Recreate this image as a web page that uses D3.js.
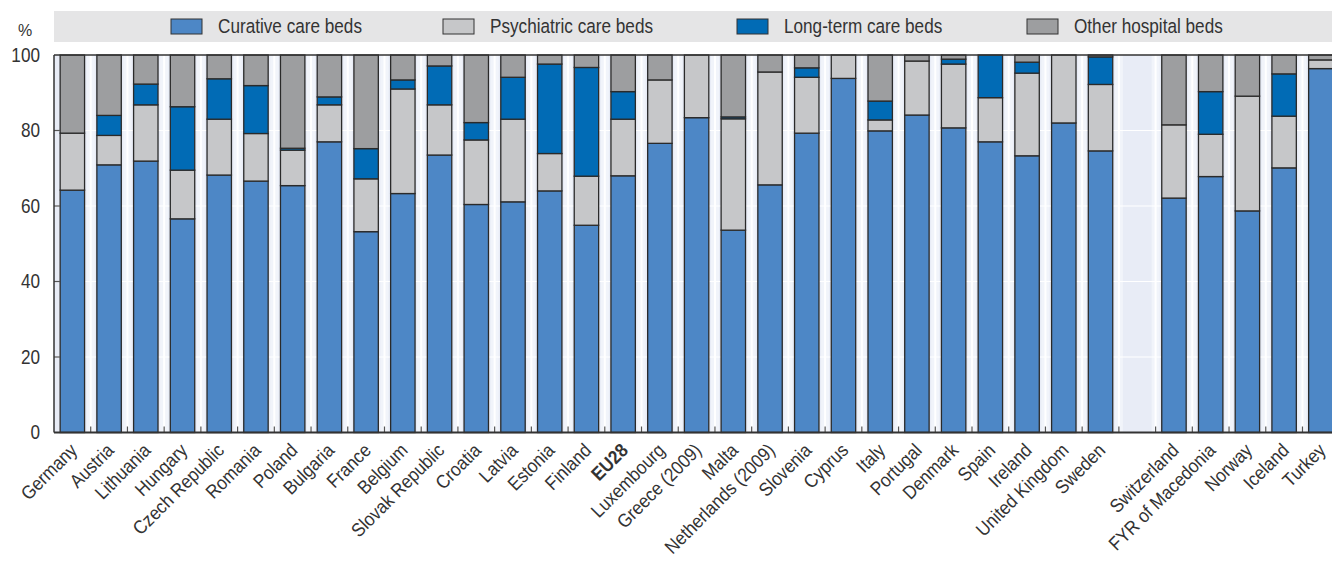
<!doctype html>
<html lang="en">
  <head>
    <meta charset="utf-8">
    <title>Hospital beds by function</title>
    <script src="https://d3js.org/d3.v7.min.js"></script>
    <style>
      body { margin: 0; background: #fff; }
      text { font-family: 'Liberation Sans', Arial, sans-serif; fill: #333; }
    </style>
  </head>

  <body>
    <div id="chart">
      <svg width="1332" height="562"></svg>
    </div>

    <script>
      var countries = ['Germany', 'Austria', 'Lithuania', 'Hungary', 'Czech Republic', 'Romania', 'Poland',
        'Bulgaria', 'France', 'Belgium', 'Slovak Republic', 'Croatia', 'Latvia', 'Estonia', 'Finland', 'EU28',
        'Luxembourg', 'Greece (2009)', 'Malta', 'Netherlands (2009)', 'Slovenia', 'Cyprus', 'Italy', 'Portugal',
        'Denmark', 'Spain', 'Ireland', 'United Kingdom', 'Sweden', '',
        'Switzerland', 'FYR of Macedonia', 'Norway', 'Iceland', 'Turkey'];

      var curative = [64.2, 70.9, 71.9, 56.6, 68.2, 66.6, 65.4, 77.0, 53.2, 63.3, 73.5, 60.4, 61.1, 64.0, 54.9, 68.0,
        76.6, 83.4, 53.6, 65.6, 79.3, 93.8, 79.9, 84.1, 80.7, 77.0, 73.3, 82.0, 74.6, 0,
        62.1, 67.8, 58.7, 70.1, 96.4];
      var psychiatric = [15.1, 7.8, 14.9, 12.9, 14.8, 12.6, 9.4, 9.8, 14.0, 27.7, 13.3, 17.1, 21.9, 9.9, 13.0, 15.0,
        16.8, 16.6, 29.5, 29.9, 14.8, 6.2, 2.9, 14.3, 16.9, 11.7, 21.9, 18.0, 17.6, 0,
        19.4, 11.2, 30.4, 13.7, 2.3];
      var longTerm = [0, 5.3, 5.5, 16.8, 10.7, 12.7, 0.5, 2.1, 8.0, 2.4, 10.3, 4.6, 11.1, 23.7, 28.8, 7.3,
        0, 0, 0.5, 0, 2.5, 0, 5.0, 0, 1.3, 11.3, 2.9, 0, 7.3, 0,
        0, 11.3, 0, 11.2, 0];
      var other = [20.7, 16.0, 7.7, 13.7, 6.3, 8.1, 24.7, 11.1, 24.8, 6.6, 2.9, 17.9, 5.9, 2.4, 3.3, 9.7,
        6.6, 0, 16.4, 4.5, 3.4, 0, 12.2, 1.6, 1.1, 0, 1.9, 0, 0.5, 0,
        18.5, 9.7, 10.9, 5.0, 1.3];

      var seriesNames = ['Curative care beds', 'Psychiatric care beds', 'Long-term care beds', 'Other hospital beds'];
      var colors = ['#4d87c6', '#c6c7c9', '#016bb5', '#9d9ea0'];
      var yTicks = [0, 20, 40, 60, 80, 100];

      var rows = countries.map(function(c, i) {
        return { country: c, s0: curative[i], s1: psychiatric[i], s2: longTerm[i], s3: other[i] };
      });

      var svg = d3.select('svg');
      var plotLeft = 54, plotTop = 55, plotBottom = 432.5;
      var step = 36.72;
      var plotRight = plotLeft + step * countries.length;
      var squeeze = 0.88;   // no condensed font installed, so narrow the regular one

      var x = d3.scaleBand()
        .domain(d3.range(countries.length))
        .range([plotLeft, plotRight])
        .paddingInner(0.335)
        .paddingOuter(0.1675);

      var y = d3.scaleLinear()
        .domain([0, 100])
        .range([plotBottom, plotTop]);

      // legend
      svg.append('rect')
        .attr('x', 54).attr('y', 11).attr('width', 1278).attr('height', 31)
        .attr('fill', '#e5e5e6');
      var legendX = [171, 443, 737, 1027];
      seriesNames.forEach(function(name, i) {
        svg.append('rect')
          .attr('x', legendX[i]).attr('y', 19).attr('width', 31).attr('height', 15)
          .attr('fill', colors[i]).attr('stroke', '#333').attr('stroke-width', 1);
        svg.append('text')
          .attr('transform', 'translate(' + (legendX[i] + 47) + ',26.5) scale(' + squeeze + ',1)')
          .attr('dy', '0.35em')
          .style('font-size', '19.5px')
          .text(name);
      });

      // plot background
      svg.append('rect')
        .attr('x', plotLeft).attr('y', plotTop)
        .attr('width', plotRight - plotLeft).attr('height', plotBottom - plotTop)
        .attr('fill', '#e8ecf6');

      var edges = d3.range(1, countries.length).map(function(i) { return plotLeft + i * step; });

      svg.append('g').selectAll('rect')
        .data(edges)
        .enter().append('rect')
          .attr('x', function(d) { return d - 4; })
          .attr('y', plotTop)
          .attr('width', 8)
          .attr('height', plotBottom - plotTop)
          .attr('fill', '#f1f4fa');

      svg.append('g').selectAll('line')
        .data(edges)
        .enter().append('line')
          .attr('x1', function(d) { return d; }).attr('x2', function(d) { return d; })
          .attr('y1', plotTop).attr('y2', plotBottom)
          .attr('stroke', '#fff').attr('stroke-width', 2);

      svg.append('g').selectAll('line')
        .data(yTicks.slice(1, 5))
        .enter().append('line')
          .attr('x1', plotLeft).attr('x2', plotRight)
          .attr('y1', y).attr('y2', y)
          .attr('stroke', '#fff').attr('stroke-width', 1.2);

      // bars
      var stack = d3.stack().keys(['s0', 's1', 's2', 's3']);
      var layers = stack(rows);

      svg.append('g').selectAll('g')
        .data(layers)
        .enter().append('g')
          .attr('fill', function(d, i) { return colors[i]; })
          .selectAll('rect')
          .data(function(d) { return d.filter(function(p) { return p[1] - p[0] > 0; }); })
          .enter().append('rect')
            .attr('x', function(d) { return x(rows.indexOf(d.data)); })
            .attr('y', function(d) { return y(d[1]); })
            .attr('width', x.bandwidth())
            .attr('height', function(d) { return y(d[0]) - y(d[1]); })
            .attr('stroke', '#2a2a2a')
            .attr('stroke-width', 1.3);

      // axes
      svg.append('g').selectAll('text')
        .data(yTicks)
        .enter().append('text')
          .attr('transform', function(d) { return 'translate(40,' + y(d) + ') scale(' + squeeze + ',1)'; })
          .attr('dy', '0.35em')
          .attr('text-anchor', 'end')
          .style('font-size', '19.5px')
          .text(function(d) { return d; });

      svg.append('g').selectAll('line')
        .data(yTicks.slice(1, 5))
        .enter().append('line')
          .attr('x1', plotLeft).attr('x2', plotLeft + 6)
          .attr('y1', y).attr('y2', y)
          .attr('stroke', '#555').attr('stroke-width', 1.2);

      svg.append('g').selectAll('line')
        .data(edges)
        .enter().append('line')
          .attr('x1', function(d) { return d; }).attr('x2', function(d) { return d; })
          .attr('y1', plotBottom).attr('y2', plotBottom - 6)
          .attr('stroke', '#555').attr('stroke-width', 1.2);

      svg.append('line')
        .attr('x1', plotLeft).attr('x2', 1332).attr('y1', plotTop).attr('y2', plotTop)
        .attr('stroke', '#333').attr('stroke-width', 1.5);
      svg.append('line')
        .attr('x1', plotLeft).attr('x2', plotLeft).attr('y1', plotTop).attr('y2', plotBottom)
        .attr('stroke', '#333').attr('stroke-width', 1.5);
      svg.append('line')
        .attr('x1', plotLeft).attr('x2', 1332).attr('y1', plotBottom).attr('y2', plotBottom)
        .attr('stroke', '#333').attr('stroke-width', 2);

      svg.append('text')
        .attr('x', 25).attr('y', 36)
        .attr('text-anchor', 'middle')
        .style('font-size', '16px')
        .text('%');

      // country labels
      svg.append('g').selectAll('text')
        .data(countries)
        .enter().append('text')
          .attr('transform', function(d, i) {
            return 'translate(' + (x(i) + x.bandwidth() / 2 + 6) + ',' + (plotBottom + 19) + ') rotate(-45) scale(0.9,1)';
          })
          .attr('text-anchor', 'end')
          .style('font-size', '19px')
          .style('font-weight', function(d) { return d === 'EU28' ? 'bold' : null; })
          .text(function(d) { return d; });
    </script>
  </body>
</html>
